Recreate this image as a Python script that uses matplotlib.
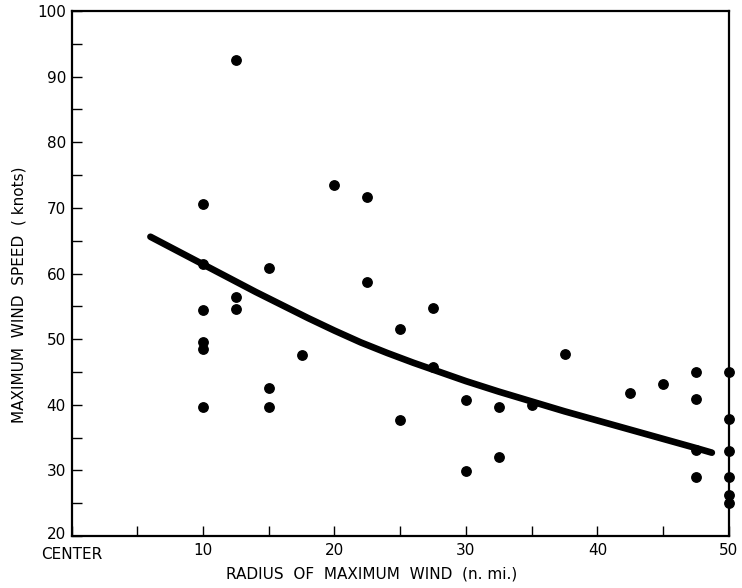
import matplotlib.pyplot as plt
import matplotlib.transforms as mtransforms
import numpy as np

# radius of maximum wind (n. mi.) and maximum wind speed (knots)
radius = [10, 10, 10, 10, 10, 10,
          12.5, 12.5, 12.5,
          15, 15, 15, 17.5,
          20, 22.5, 22.5,
          25, 25, 27.5, 27.5,
          30, 30, 32.5, 32.5, 35, 37.5,
          42.5, 45,
          47.5, 47.5, 47.5, 47.5,
          50, 50, 50, 50, 50, 50]
speed = [70.6, 61.5, 54.4, 49.5, 48.5, 39.6,
         92.6, 56.4, 54.6,
         60.8, 42.5, 39.6, 47.6,
         73.5, 71.6, 58.7,
         51.6, 37.7, 54.8, 45.8,
         40.7, 29.9, 39.7, 32.0, 40.0, 47.8,
         41.8, 43.1,
         45.0, 40.9, 33.1, 29.0,
         45.0, 37.9, 33.0, 29.0, 26.2, 25.1]

# fitted curve
curve_r = [6, 8, 10, 12, 14, 16, 18, 20, 22, 24, 26, 28, 30, 32.5, 35,
           37.5, 40, 42.5, 45, 47.5, 48.7]
curve_v = [65.6, 63.5, 61.4, 59.3, 57.2, 55.2, 53.2, 51.3, 49.5, 47.9, 46.4,
           45.0, 43.6, 42.0, 40.5, 39.0, 37.6, 36.2, 34.8, 33.4, 32.7]

xtick_pos = [0, 10, 20, 30, 40, 50]
xtick_lab = ['CENTER', '10', '20', '30', '40', '50']
ytick_pos = [20, 30, 40, 50, 60, 70, 80, 90, 100]

plt.rcParams['font.family'] = ['DejaVu Sans']

fig = plt.figure(figsize=(7.42, 5.88), dpi=100)
ax = fig.add_axes([0.0964, 0.0884, 0.886, 0.8929])

ax.plot(curve_r, curve_v, color='black', lw=4.8, solid_capstyle='round',
        solid_joinstyle='round', zorder=2)
ax.scatter(radius, speed, s=46, color='black', zorder=3, clip_on=False)

ax.set_xlim(0, 50)
ax.set_ylim(20, 100)
ax.set_xticks(xtick_pos)
ax.set_xticklabels(xtick_lab)
ax.set_xticks(np.arange(5, 50, 10), minor=True)
ax.set_yticks(ytick_pos)
ax.set_yticks(np.arange(25, 100, 10), minor=True)
ax.tick_params(which='both', direction='in', length=7, width=1.0,
               labelsize=11, colors='black')
ax.tick_params(axis='x', which='major', pad=5)
ax.tick_params(axis='y', which='major', pad=4)

# stack "CENTER" a little below the "20" of the y axis, as in the original
fig.canvas.draw()
xl0 = ax.get_xticklabels()[0]
xl0.set_transform(xl0.get_transform() +
                  mtransforms.ScaledTranslation(0, -3 / 72, fig.dpi_scale_trans))
yl0 = ax.get_yticklabels()[0]
yl0.set_transform(yl0.get_transform() +
                  mtransforms.ScaledTranslation(0, 2 / 72, fig.dpi_scale_trans))

for s in ax.spines.values():
    s.set_linewidth(1.6)
    s.set_color('black')

ax.set_xlabel('RADIUS  OF  MAXIMUM  WIND  (n. mi.)', fontsize=11)
ax.xaxis.set_label_coords(0.457, -0.058)
ax.set_ylabel('MAXIMUM  WIND  SPEED  ( knots)', fontsize=11)
ax.yaxis.set_label_coords(-0.068, 0.46)

fig.savefig('out.png', dpi=100)
